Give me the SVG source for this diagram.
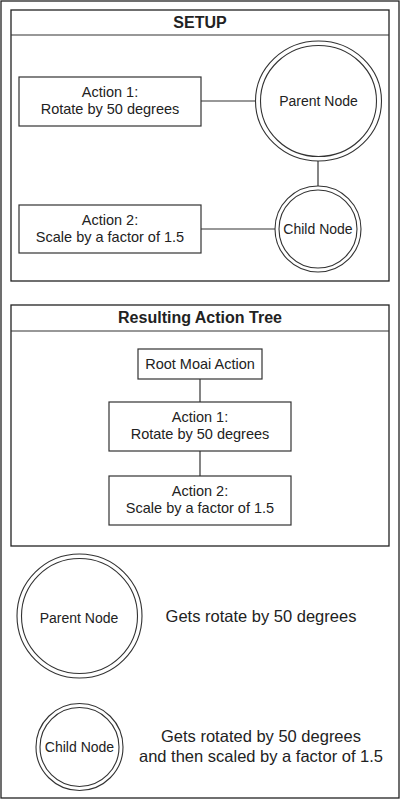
<svg xmlns="http://www.w3.org/2000/svg" width="400" height="800" viewBox="0 0 400 800">
<style>
.frame{fill:#fff;stroke:#222;stroke-width:1.3}
.box{fill:#fff;stroke:#333;stroke-width:1.2}
.ring{fill:#fff;stroke:#333;stroke-width:1.1}
.con{stroke:#333;stroke-width:1.2;fill:none}
text{font-family:"Liberation Sans",Arial,sans-serif;fill:#222;text-anchor:middle}
.t{font-size:14.5px}
.s{font-size:14px}
.l{font-size:16.5px}
.h{font-size:16px;font-weight:bold}
</style>
<rect x="0" y="0" width="400" height="800" fill="#fff"/>
<rect class="frame" x="1" y="1" width="398" height="797"/>

<g id="setup-panel">
<rect class="frame" x="11" y="10" width="378" height="271"/>
<line class="con" x1="11" y1="35" x2="389" y2="35"/>
<text class="h" x="200" y="28">SETUP</text>
</g>
<g id="tree-panel">
<rect class="frame" x="11" y="305" width="378" height="241"/>
<line class="con" x1="11" y1="331" x2="389" y2="331"/>
<text class="h" x="200" y="323">Resulting Action Tree</text>
</g>

<g id="connectors">
<line class="con" x1="201" y1="101" x2="255" y2="101"/>
<line class="con" x1="318" y1="161" x2="318" y2="187"/>
<line class="con" x1="201" y1="229" x2="275" y2="229"/>
<line class="con" x1="200" y1="379" x2="200" y2="402"/>
<line class="con" x1="200" y1="451" x2="200" y2="476"/>
</g>

<g id="setup-action1">
<rect class="box" x="19" y="77" width="182" height="49"/>
<text class="t" x="110" y="97">Action 1:</text>
<text class="t" x="110" y="114">Rotate by 50 degrees</text>
</g>
<g id="setup-parent">
<ellipse class="ring" cx="318.5" cy="101" rx="63" ry="60"/>
<ellipse class="ring" cx="318.5" cy="101" rx="58" ry="55.5"/>
<text class="s" x="318.5" y="106">Parent Node</text>
</g>
<g id="setup-action2">
<rect class="box" x="19" y="205" width="182" height="48"/>
<text class="t" x="110" y="225">Action 2:</text>
<text class="t" x="110" y="242">Scale by a factor of 1.5</text>
</g>
<g id="setup-child">
<circle class="ring" cx="318" cy="229" r="43"/>
<circle class="ring" cx="318" cy="229" r="39"/>
<text class="s" x="318" y="234">Child Node</text>
</g>

<g id="tree-root">
<rect class="box" x="138" y="349" width="124" height="30"/>
<text class="t" x="200" y="369">Root Moai Action</text>
</g>
<g id="tree-action1">
<rect class="box" x="109" y="402" width="182" height="49"/>
<text class="t" x="200" y="422">Action 1:</text>
<text class="t" x="200" y="439">Rotate by 50 degrees</text>
</g>
<g id="tree-action2">
<rect class="box" x="109" y="476" width="182" height="49"/>
<text class="t" x="200" y="496">Action 2:</text>
<text class="t" x="200" y="513">Scale by a factor of 1.5</text>
</g>

<g id="legend-parent">
<ellipse class="ring" cx="79.5" cy="616" rx="62.5" ry="62"/>
<ellipse class="ring" cx="79.5" cy="616" rx="58" ry="57.5"/>
<text class="s" x="79" y="623">Parent Node</text>
</g>
<text class="l" x="261" y="622">Gets rotate by 50 degrees</text>
<g id="legend-child">
<circle class="ring" cx="79.5" cy="747" r="43.5"/>
<circle class="ring" cx="79.5" cy="747" r="39.5"/>
<text class="s" x="79.5" y="752">Child Node</text>
</g>
<text class="l" x="261" y="742">Gets rotated by 50 degrees</text>
<text class="l" x="261" y="762">and then scaled by a factor of 1.5</text>
</svg>
